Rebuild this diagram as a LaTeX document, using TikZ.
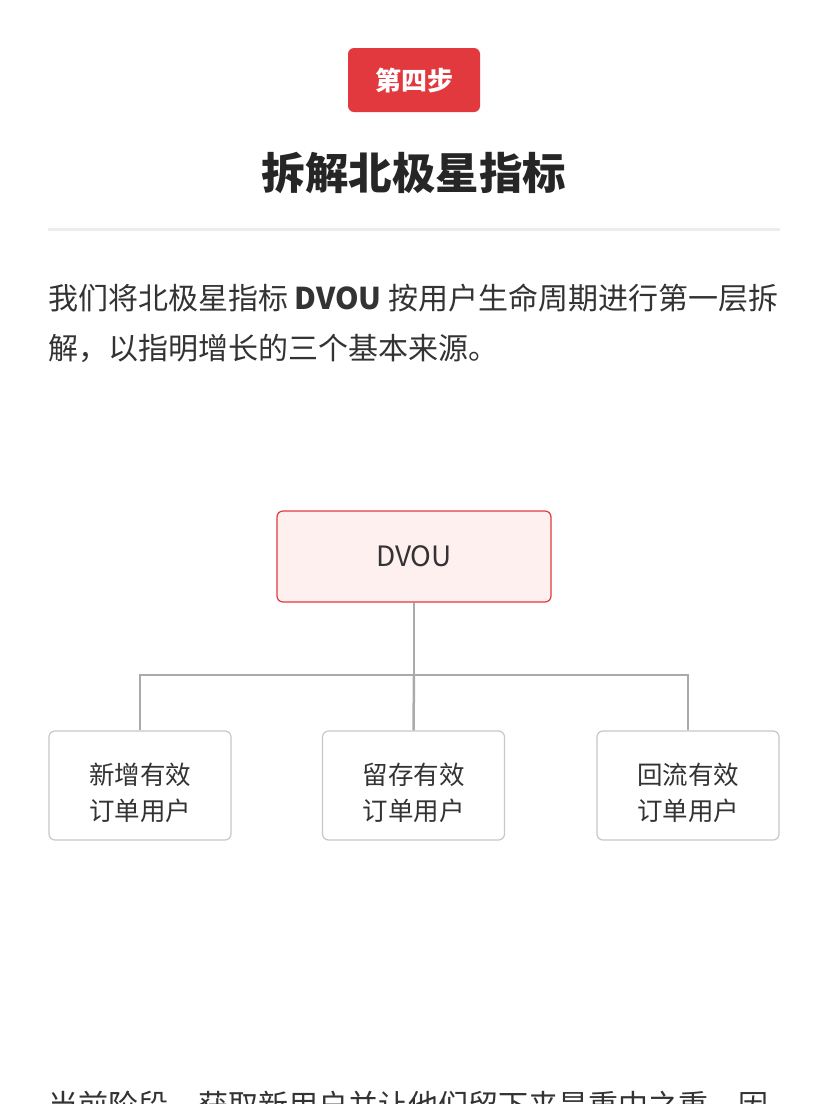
\documentclass[tikz,border=0pt]{standalone}
\usepackage{fontspec}
\setmainfont{Noto Sans CJK SC}
\definecolor{badgered}{HTML}{E1393E}
\definecolor{lightred}{HTML}{FFF0F0}
\definecolor{textdark}{HTML}{333333}
\definecolor{linegrey}{HTML}{AAAAAA}
\begin{document}
\begin{tikzpicture}[x=1pt,y=-1pt]

    % Styles
    \tikzset{
        root/.style={draw=badgered, fill=lightred, line width=1.2pt, rounded corners=6pt,
            minimum width=274pt, minimum height=91pt, text=textdark, font=\fontsize{28}{30}\selectfont},
        leaf/.style={draw=black!22, fill=white, line width=1.2pt, rounded corners=6pt,
            minimum width=182pt, minimum height=109pt},
        leaftext/.style={text=textdark, align=center, font=\fontsize{25.5}{36}\selectfont},
        link/.style={draw=linegrey, line width=2.5pt}
    }

    \useasboundingbox (0,0) rectangle (828,1104);
    \fill[white] (0,0) rectangle (828,1104);

    % Header
    \fill[badgered, rounded corners=6pt] (348,48) rectangle (480,112);
    \node[text=white, font=\fontsize{26}{28}\selectfont\bfseries] (step) at (414,80) {第四步};
    \node[text=black!85, font=\fontsize{43.5}{46}\selectfont\bfseries] (title) at (414,173) {拆解北极星指标};
    \draw[black!7, line width=3pt] (48,229) -- (780,229);

    % Paragraph
    \node[anchor=base west, inner sep=0, text=textdark, font=\fontsize{30}{50}\selectfont] (p1) at (48,309)
        {我们将北极星指标 \textbf{DVOU} 按用户生命周期进行第一层拆};
    \node[anchor=base west, inner sep=0, text=textdark, font=\fontsize{30}{50}\selectfont] (p2) at (48,359)
        {解，以指明增长的三个基本来源。};

    % Tree
    \node[root] (dvou) at (414,556.5) {DVOU};
    \node[leaf] (new) at (140,785.5) {};
    \node[leaf] (keep) at (413.5,785.5) {};
    \node[leaf] (back) at (688,785.5) {};
    \node[leaftext, yshift=-7pt] (newtxt) at (new) {新增有效\\订单用户};
    \node[leaftext, yshift=-7pt] (keeptxt) at (keep) {留存有效\\订单用户};
    \node[leaftext, yshift=-7pt] (backtxt) at (back) {回流有效\\订单用户};
    \coordinate (hub) at (414,675);
    \draw[link] (dvou.south) -- (hub);
    \draw[link] (hub) -| (new.north);
    \draw[link] (hub) -- (keep.north);
    \draw[link] (hub) -| (back.north);

    % Cut-off text at the bottom
    \node[anchor=base west, inner sep=0, text=textdark, font=\fontsize{30}{50}\selectfont] (p3) at (48,1116)
        {当前阶段，获取新用户并让他们留下来是重中之重。因};

\end{tikzpicture}
\end{document}
